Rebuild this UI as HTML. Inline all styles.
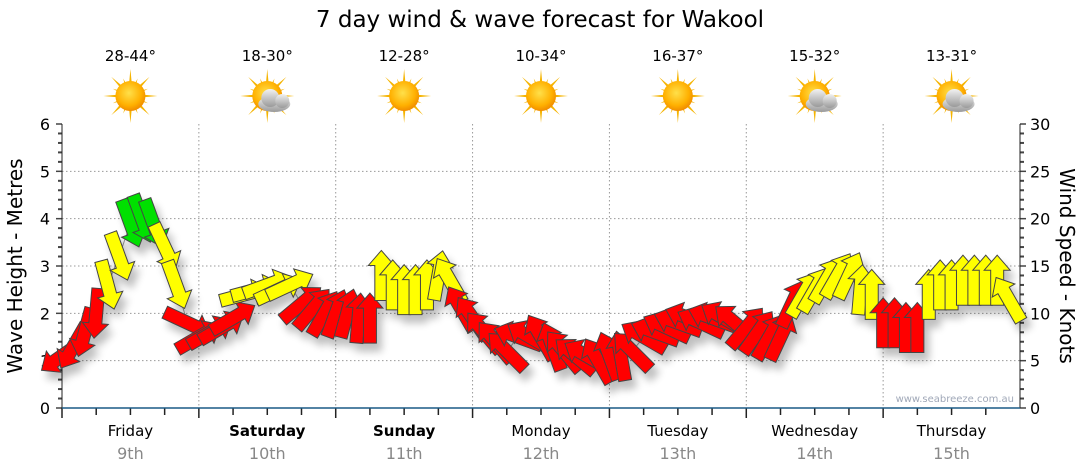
<!DOCTYPE html>
<html><head><meta charset="utf-8"><style>
html,body{margin:0;padding:0;background:#fff;}
svg{display:block;font-family:"DejaVu Sans","Liberation Sans",sans-serif;}
</style></head><body>
<svg id="chart" width="1080" height="475" viewBox="0 0 1080 475" xmlns="http://www.w3.org/2000/svg">
<defs>
<radialGradient id="sunG" cx="45%" cy="40%" r="60%"><stop offset="0" stop-color="#ffe04a"/><stop offset="0.7" stop-color="#ffb000"/><stop offset="1" stop-color="#f08c00"/></radialGradient>
<linearGradient id="cloudG" x1="0" y1="0" x2="0" y2="1"><stop offset="0" stop-color="#f2f2f2"/><stop offset="1" stop-color="#9a9a9a"/></linearGradient>
<filter id="shadow" x="-50%" y="-50%" width="200%" height="200%"><feGaussianBlur in="SourceAlpha" stdDeviation="4"/><feOffset dx="5" dy="8"/><feComponentTransfer><feFuncA type="linear" slope="0.25"/></feComponentTransfer><feMerge><feMergeNode/><feMergeNode in="SourceGraphic"/></feMerge></filter>
</defs>
<text x="540" y="27" font-size="23" text-anchor="middle" fill="#000">7 day wind &amp; wave forecast for Wakool</text>
<g id="grid"></g>
<g id="axes"></g>
<g id="header"></g>
<line id="trend"></line>
<g id="marks" filter="url(#shadow)"></g>
<text transform="translate(22,266) rotate(-90)" font-size="20" text-anchor="middle">Wave Height - Metres</text>
<text transform="translate(1060,266) rotate(90)" font-size="20" text-anchor="middle">Wind Speed - Knots</text>
<text x="1014" y="402" font-size="10" text-anchor="end" fill="#a0a8b8">www.seabreeze.com.au</text>
</svg>
<script>
const days = ["Friday","Saturday","Sunday","Monday","Tuesday","Wednesday","Thursday"];
const dates = ["9th","10th","11th","12th","13th","14th","15th"];
const boldDays = [false,true,true,false,false,false,false];
const temps = ["28-44°","18-30°","12-28°","10-34°","16-37°","15-32°","13-31°"];
const cloudy = [false,true,false,false,false,true,true];
const waveTicks = [0,1,2,3,4,5,6];
const windTicks = [0,5,10,15,20,25,30];
// 2-hourly data, 12 per day
const waveHeight = [
 1.1,1.3,1.6,2.0,2.6,3.2,3.9,4.0,3.9,3.4,2.6,1.8,
 1.5,1.6,1.7,1.9,2.4,2.5,2.6,2.5,2.6,2.2,2.1,2.0,
 2.0,2.0,1.9,1.9,2.8,2.6,2.5,2.5,2.6,2.8,2.7,2.1,
 1.9,1.6,1.4,1.2,1.5,1.5,1.5,1.3,1.2,1.1,1.1,1.0,
 1.1,1.1,1.2,1.5,1.6,1.7,1.8,1.9,1.8,1.9,1.9,1.8,
 1.7,1.6,1.5,1.5,2.2,2.4,2.5,2.7,2.8,2.8,2.5,2.4,
 1.8,1.8,1.7,1.7,2.4,2.6,2.6,2.7,2.7,2.7,2.7,2.3];
const windDir = [
 235,210,195,185,165,160,160,160,160,155,160,115,
 60,60,60,60,75,75,70,65,65,50,40,30,
 20,15,5,0,0,0,0,0,0,10,330,330,
 325,320,320,315,290,300,330,340,320,310,300,330,
 340,350,315,300,290,295,290,290,295,290,300,310,
 40,35,30,25,25,30,30,30,30,25,5,0,
 0,0,0,0,0,0,0,0,0,0,0,330];
const windSpeed = [
 8,8,9,10,14,15,22,23,22,16,14,9,
 8,8,9,9,14,14,15,14,14,10,9,9,
 9,9,9,9,14,14,14,14,14,14,15,10,
 9,9,9,9,8,8,8,8,8,8,8,8,
 8,8,9,9,9,9,9,9,9,9,9,9,
 9,9,9,9,10,13,14,14,15,15,14,13,
 9,9,9,9,14,14,14,15,15,15,15,13];

const NS="http://www.w3.org/2000/svg";
const X0=62,X1=1020,Y0=408,Y1=124;
const nPts=days.length*12;
const xScale=i=>X0+(X1-X0)*i/nPts;
const yWave=v=>Y0-(Y0-Y1)*v/6;
const yWind=v=>Y0-(Y0-Y1)*v/30;
const dayX=d=>X0+(X1-X0)*d/days.length;
function mk(tag,attrs,parent){const e=document.createElementNS(NS,tag);for(const k in attrs)e.setAttribute(k,attrs[k]);parent.appendChild(e);return e;}
const grid=document.getElementById('grid'),axes=document.getElementById('axes'),header=document.getElementById('header'),marks=document.getElementById('marks');

waveTicks.forEach(t=>{
  if(t>0&&t<6){const l=mk('line',{x1:X0,x2:X1,y1:yWave(t),y2:yWave(t),stroke:'#999','stroke-dasharray':'1.5,2.5','stroke-width':1},grid);
  
  }
  const tx=mk('text',{x:50,y:yWave(t)+6,'font-size':16,'text-anchor':'end',fill:'#000'},axes);tx.textContent=t;
  
  
});
for(let m=0;m<=30;m++){const v=m*0.2;const big=m%5===0;
  mk('line',{x1:X0-(big?6:4),x2:X0,y1:yWave(v),y2:yWave(v),stroke:'#444','stroke-width':big?1.5:2},axes);}
windTicks.forEach(t=>{
  const tx=mk('text',{x:1030,y:yWind(t)+6,'font-size':16,fill:'#000'},axes);tx.textContent=t;
  
  
});
for(let m=0;m<=30;m++){const big=m%5===0;mk('line',{x1:X1,x2:X1+(big?6:4),y1:yWind(m),y2:yWind(m),stroke:'#444','stroke-width':big?1.5:2},axes);}
mk('line',{x1:X0,x2:X0,y1:Y1,y2:Y0,stroke:'#222','stroke-width':1},axes);
mk('line',{x1:X1,x2:X1,y1:Y1,y2:Y0,stroke:'#222','stroke-width':1},axes);
days.forEach((d,i)=>{
  if(i>0){const l=mk('line',{x1:dayX(i),x2:dayX(i),y1:Y1,y2:Y0,stroke:'#999','stroke-dasharray':'1.5,2.5'},grid);
  
  }
  for(let q=0;q<4;q++){const xx=X0+(X1-X0)*(i+q/4)/days.length;mk('line',{x1:xx,x2:xx,y1:Y0,y2:Y0+(q===0?10:7),stroke:'#222','stroke-width':1.5},axes);}
  const cx=(dayX(i)+dayX(i+1))/2;
  const a=mk('text',{x:cx,y:436,'font-size':15,'text-anchor':'middle','font-weight':boldDays[i]?'bold':'normal'},axes);a.textContent=d;
  
  
  const b=mk('text',{x:cx,y:459,'font-size':16,'text-anchor':'middle',fill:'#888'},axes);b.textContent=dates[i];
  
  
  const t=mk('text',{x:cx,y:61,'font-size':15,'text-anchor':'middle'},header);t.textContent=temps[i];
  
  
  const g=mk('g',{transform:`translate(${cx},${96})`},header);
  
  
  for(let r=0;r<16;r++){const ang=r*22.5;const L=r%2?19:27;mk('polygon',{points:`-2.5,0 2.5,0 0,-${L}`,fill:'#f5b400',transform:`rotate(${ang})`},g);}
  mk('circle',{r:15,fill:'url(#sunG)'},g);
  if(cloudy[i]){const c=mk('g',{transform:'translate(7,5)'},g);
    mk('ellipse',{cx:0,cy:3,rx:16,ry:8,fill:'url(#cloudG)'},c);
    mk('circle',{cx:-4,cy:-3,r:9,fill:'url(#cloudG)'},c);
    mk('circle',{cx:8,cy:0,r:7,fill:'url(#cloudG)'},c);}
});
mk('line',{x1:X0,x2:X1,y1:Y0,y2:Y0,stroke:'#1a5a85','stroke-width':1.5},axes);

const trend=document.getElementById('trend');
const pl=document.createElementNS(NS,'polyline');
pl.setAttribute('points',waveHeight.map((v,i)=>xScale(i)+','+yWave(v)).join(' '));
pl.setAttribute('fill','none');pl.setAttribute('stroke','#999');pl.setAttribute('stroke-width','1');


trend.replaceWith(pl);

const colorFor=s=>s>=20?'#00e000':(s>=12?'#ffff00':'#ff0000');
const arrowPts="0,-25 13,-10 6.5,-10 6.5,25 -6.5,25 -6.5,-10 -13,-10";
waveHeight.forEach((v,i)=>{
  const p=document.createElementNS(NS,'polygon');
  p.setAttribute('points',arrowPts);
  p.setAttribute('transform',`translate(${xScale(i)},${yWave(v)}) rotate(${windDir[i]})`);
  p.setAttribute('fill',colorFor(windSpeed[i]));
  p.setAttribute('stroke','#444');
  p.setAttribute('stroke-width','1');
  
  
  marks.appendChild(p);
});
</script>
</body></html>
